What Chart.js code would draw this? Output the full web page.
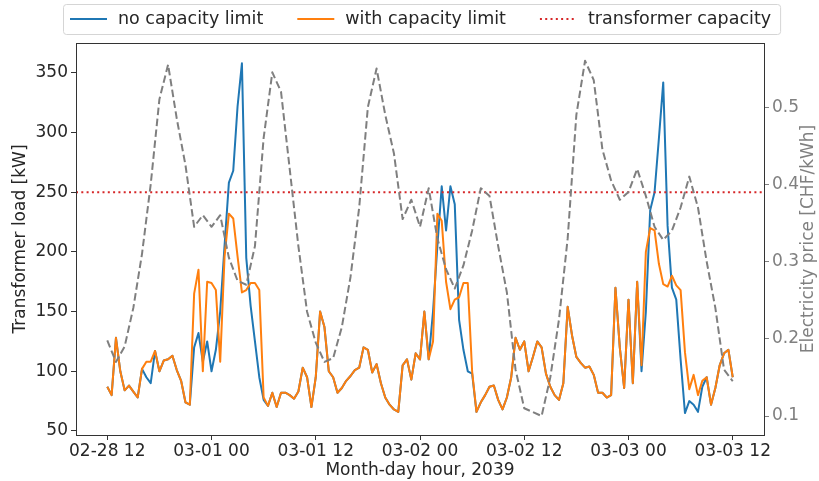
<!DOCTYPE html>
<html>
<head>
<meta charset="utf-8">
<script src="https://cdn.jsdelivr.net/npm/chart.js@4.4.0/dist/chart.umd.min.js"></script>
<style>
  html, body { margin: 0; padding: 0; background: #fff; }
  #wrap { width: 819px; height: 481px; }
</style>
</head>
<body>
<div id="wrap"><canvas id="chart" width="819" height="481"></canvas></div>
<script>
/* ------------------------------------------------------------
   DATA  (hours counted from 02-28 12:00)
------------------------------------------------------------ */
const loadStepHours = 0.5;
const priceStepHours = 1;
const tickHours = [0, 12, 24, 36, 48, 60, 72];
const tickLabels = ["02-28 12", "03-01 00", "03-01 12", "03-02 00", "03-02 12", "03-03 00", "03-03 12"];
const loadTicks = [50, 100, 150, 200, 250, 300, 350];
const priceTicks = [0.1, 0.2, 0.3, 0.4, 0.5];
const transformerCapacity = 250;

// transformer load with capacity limit [kW]
const loadWithLimit = [
  87, 80, 128, 100, 84, 88, 83, 78, 102, 108,
  108, 117, 100, 109, 110, 113, 101, 92, 74, 72,
  165, 185, 100, 175, 174, 168, 108, 196, 232, 228,
  196, 166, 168, 174, 174, 168, 78, 71, 82, 70,
  82, 82, 80, 77, 83, 103, 95, 70, 95, 150,
  137, 100, 95, 82, 86, 92, 96, 101, 103, 120,
  118, 99, 106, 90, 78, 72, 68, 66, 105, 110,
  93, 115, 110, 150, 110, 125, 232, 226, 175, 152,
  160, 162, 174, 174, 100, 66, 74, 80, 87, 88,
  76, 68, 78, 95, 128, 118, 125, 100, 112, 125,
  120, 98, 87, 80, 76, 90, 154, 130, 112, 107,
  103, 104, 97, 82, 82, 78, 80, 170, 120, 86,
  160, 90, 175, 105, 200, 220, 218, 190, 173, 171,
  180, 172, 168, 116, 85, 97, 80, 92, 95, 72,
  86, 105, 115, 118, 95
];

// transformer load without capacity limit [kW]
const loadNoLimit = [
  87, 80, 128, 100, 84, 88, 83, 78, 102, 95,
  90, 117, 100, 109, 110, 113, 101, 92, 74, 72,
  120, 132, 108, 125, 100, 118, 150, 205, 258, 268,
  322, 358, 195, 155, 125, 95, 76, 71, 82, 70,
  82, 82, 80, 77, 83, 103, 95, 70, 95, 150,
  137, 100, 95, 82, 86, 92, 96, 101, 103, 120,
  118, 99, 106, 90, 78, 72, 68, 66, 105, 110,
  93, 115, 110, 150, 110, 150, 205, 255, 218, 255,
  240, 143, 118, 100, 98, 66, 74, 80, 87, 88,
  76, 68, 78, 95, 128, 118, 125, 100, 112, 125,
  120, 98, 87, 80, 76, 90, 154, 130, 112, 107,
  103, 104, 97, 82, 82, 78, 80, 170, 120, 86,
  160, 90, 175, 100, 150, 235, 250, 295, 342, 222,
  170, 160, 110, 65, 75, 72, 66, 87, 95, 72,
  86, 105, 115, 118, 95
];

// electricity price [CHF/kWh], hourly
const price = [
  0.198, 0.17, 0.19, 0.24, 0.31, 0.40, 0.51, 0.555, 0.485, 0.425,
  0.345, 0.36, 0.345, 0.36, 0.305, 0.275, 0.27, 0.32, 0.46, 0.545,
  0.52, 0.42, 0.32, 0.235, 0.195, 0.17, 0.175, 0.215, 0.28, 0.37,
  0.50, 0.55, 0.49, 0.44, 0.355, 0.38, 0.345, 0.395, 0.33, 0.29,
  0.265, 0.295, 0.34, 0.395, 0.385, 0.32, 0.26, 0.16, 0.11, 0.105,
  0.10, 0.15, 0.225, 0.33, 0.49, 0.56, 0.535, 0.445, 0.405, 0.38,
  0.39, 0.42, 0.385, 0.345, 0.328, 0.34, 0.37, 0.41, 0.37, 0.30,
  0.24, 0.16, 0.145
];

/* ------------------------------------------------------------
   AXIS LIMITS (matplotlib-style margins)
------------------------------------------------------------ */
const xMin = -3.6, xMax = 75.6;
const loadMin = 46.6, loadMax = 375;
const priceMin = 0.0754, priceMax = 0.583;

const FONT = '"DejaVu Sans", "Liberation Sans", sans-serif';
const TEXT = "#262626";
const GREY = "#808080";

const toPoints = (arr, step) => arr.map((v, i) => ({ x: i * step, y: v }));

/* ------------------------------------------------------------
   PLUGINS: frame, right axis title, legend
------------------------------------------------------------ */
const framePlugin = {
  id: "frame",
  afterDraw(chart) {
    const { ctx, chartArea: a } = chart;
    ctx.save();
    ctx.strokeStyle = "#333";
    ctx.lineWidth = 1;
    ctx.strokeRect(Math.round(a.left) + 0.5, Math.round(a.top) + 0.5,
      Math.round(a.right - a.left), Math.round(a.bottom - a.top));

    // right axis title reads bottom-to-top like matplotlib
    ctx.fillStyle = GREY;
    ctx.font = "17px " + FONT;
    ctx.textAlign = "center";
    ctx.textBaseline = "middle";
    ctx.translate(809, (a.top + a.bottom) / 2);
    ctx.rotate(-Math.PI / 2);
    ctx.fillText("Electricity price [CHF/kWh]", 0, 0);
    ctx.restore();
  }
};

const legendPlugin = {
  id: "boxLegend",
  afterDraw(chart) {
    const { ctx } = chart;
    const items = chart.data.datasets.filter(d => d.inLegend);
    ctx.save();
    ctx.font = "17.5px " + FONT;
    const lineLen = 37, gap = 11, spacing = 34, y = 19;
    let x = 70;
    const widths = items.map(d => ctx.measureText(d.label).width);
    const total = widths.reduce((s, w) => s + w, 0) + items.length * (lineLen + gap) + (items.length - 1) * spacing;
    const boxL = x - 7, boxR = x + total + 9;

    ctx.fillStyle = "rgba(255,255,255,0.8)";
    ctx.strokeStyle = "#d5d5d5";
    ctx.lineWidth = 1;
    ctx.beginPath();
    ctx.roundRect(boxL + 0.5, 4.5, boxR - boxL, 30, 3);
    ctx.fill();
    ctx.stroke();

    items.forEach((d, i) => {
      ctx.strokeStyle = d.borderColor;
      ctx.lineWidth = d.borderWidth;
      ctx.setLineDash(d.borderDash || []);
      ctx.beginPath();
      ctx.moveTo(x, y);
      ctx.lineTo(x + lineLen, y);
      ctx.stroke();
      ctx.setLineDash([]);
      ctx.fillStyle = TEXT;
      ctx.textBaseline = "middle";
      ctx.fillText(d.label, x + lineLen + gap, y);
      x += lineLen + gap + widths[i] + spacing;
    });
    ctx.restore();
  }
};

/* ------------------------------------------------------------
   CHART
------------------------------------------------------------ */
const ctx = document.getElementById("chart").getContext("2d");

new Chart(ctx, {
  type: "line",
  data: {
    datasets: [
      {
        label: "no capacity limit",
        inLegend: true,
        data: toPoints(loadNoLimit, loadStepHours),
        borderColor: "#1f77b4",
        borderWidth: 2,
        yAxisID: "y",
        order: 4
      },
      {
        label: "with capacity limit",
        inLegend: true,
        data: toPoints(loadWithLimit, loadStepHours),
        borderColor: "#ff7f0e",
        borderWidth: 2,
        yAxisID: "y",
        order: 3
      },
      {
        label: "transformer capacity",
        inLegend: true,
        data: [{ x: xMin, y: transformerCapacity }, { x: xMax, y: transformerCapacity }],
        borderColor: "#d62728",
        borderWidth: 2,
        borderDash: [2, 3.3],
        yAxisID: "y",
        order: 2
      },
      {
        label: "electricity price",
        inLegend: false,
        data: toPoints(price, priceStepHours),
        borderColor: "#7f7f7f",
        borderWidth: 2,
        borderDash: [7.5, 3.5],
        yAxisID: "y1",
        order: 1
      }
    ]
  },
  options: {
    responsive: false,
    animation: false,
    devicePixelRatio: 1,
    layout: { padding: { top: 43, left: 0, right: 0, bottom: 0 } },
    elements: {
      point: { radius: 0, hoverRadius: 0 },
      line: { tension: 0, fill: false, borderCapStyle: "butt", borderJoinStyle: "round" }
    },
    plugins: {
      legend: { display: false },
      tooltip: { enabled: false }
    },
    scales: {
      x: {
        type: "linear",
        min: xMin,
        max: xMax,
        afterBuildTicks: s => { s.ticks = tickHours.map(v => ({ value: v })); },
        afterFit: s => { s.height = 46; },
        ticks: {
          callback: v => tickLabels[tickHours.indexOf(v)],
          font: { family: FONT, size: 17 },
          color: TEXT,
          maxRotation: 0,
          autoSkip: false,
          padding: 1
        },
        grid: { drawOnChartArea: false, tickLength: 5, color: "#333" },
        border: { display: false },
        title: {
          display: true,
          text: "Month-day hour, 2039",
          font: { family: FONT, size: 17 },
          color: TEXT,
          padding: { top: 0, bottom: 0 }
        }
      },
      y: {
        position: "left",
        min: loadMin,
        max: loadMax,
        afterBuildTicks: s => { s.ticks = loadTicks.map(v => ({ value: v })); },
        afterFit: s => { s.width = 76; },
        ticks: {
          font: { family: FONT, size: 17 },
          color: TEXT,
          padding: 3
        },
        grid: { drawOnChartArea: false, tickLength: 5, color: "#333" },
        border: { display: false },
        title: {
          display: true,
          text: "Transformer load [kW]",
          font: { family: FONT, size: 17 },
          color: TEXT,
          padding: { top: 10, bottom: 0 }
        }
      },
      y1: {
        position: "right",
        min: priceMin,
        max: priceMax,
        afterBuildTicks: s => { s.ticks = priceTicks.map(v => ({ value: v })); },
        afterFit: s => { s.width = 55; },
        ticks: {
          callback: v => v.toFixed(1),
          font: { family: FONT, size: 17 },
          color: GREY,
          padding: 3
        },
        grid: { drawOnChartArea: false, tickLength: 5, color: GREY },
        border: { display: false }
      }
    }
  },
  plugins: [framePlugin, legendPlugin]
});
</script>
</body>
</html>
